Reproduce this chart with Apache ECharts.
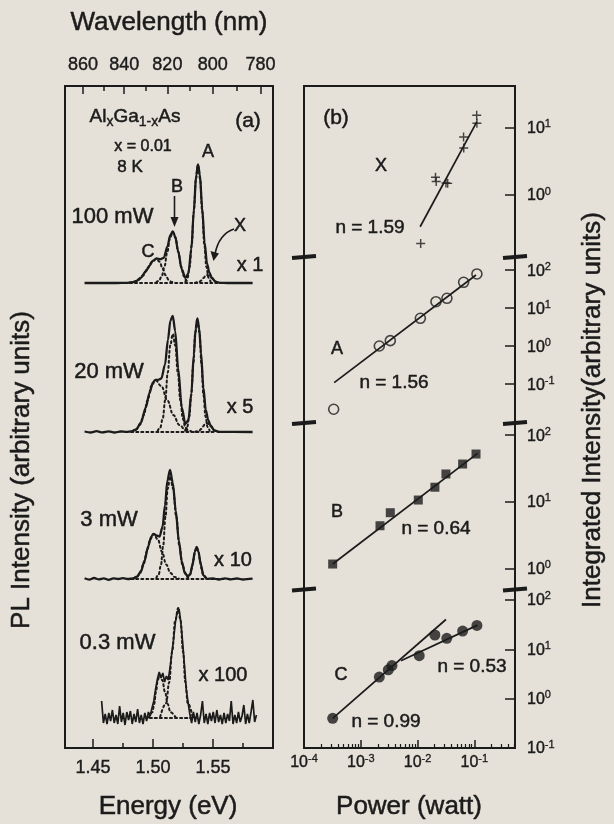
<!DOCTYPE html>
<html><head><meta charset="utf-8">
<script src="https://cdn.jsdelivr.net/npm/echarts@6/dist/echarts.min.js"></script>
<style>html,body{margin:0;padding:0;background:#e5e1d8;}#c{width:614px;height:824px;}</style>
</head><body><div id="c"></div>
<script>
// ---------------- Panel (a): PL spectra ----------------
const energyMajorTicks = [1.45, 1.50, 1.55];
const energyMinorTicks = [1.475, 1.525, 1.575];
const wavelengthMajor = [860, 840, 820, 800, 780];
const wavelengthMinor = [850, 830, 810, 790];
const powerNames = ['100 mW', '20 mW', '3 mW', '0.3 mW'];
const scaleNames = ['x 1', 'x 5', 'x 10', 'x 100'];
const baselineOffsets = [46.5, 31.6, 16.9, 3.0];

const p100Total = [[1.443,0],[1.470,0],[1.478,0.01],[1.482,0.05],[1.486,0.18],[1.490,0.54],[1.494,1.17],[1.497,1.74],[1.500,2.23],[1.503,2.47],[1.506,2.38],[1.509,2.52],[1.512,3.64],[1.5145,4.81],[1.5165,5.16],[1.5185,4.66],[1.521,3.16],[1.524,1.36],[1.527,0.51],[1.5295,0.96],[1.532,3.45],[1.534,7.16],[1.536,10.78],[1.5375,11.86],[1.539,10.90],[1.541,7.51],[1.543,4.05],[1.545,1.97],[1.547,1.03],[1.549,0.54],[1.552,0.14],[1.556,0.01],[1.562,0],[1.583,0]];
const p100C = [[1.4805,0.03],[1.4843,0.11],[1.488,0.32],[1.4918,0.78],[1.4955,1.46],[1.4993,2.12],[1.503,2.4],[1.5055,2.12],[1.508,1.46],[1.5105,0.78],[1.513,0.32],[1.5155,0.11],[1.518,0.03]];
const p100B = [[1.5027,0.06],[1.505,0.22],[1.5073,0.69],[1.5096,1.66],[1.5119,3.09],[1.5142,4.50],[1.5165,5.1],[1.5188,4.50],[1.5211,3.09],[1.5234,1.66],[1.5257,0.69],[1.528,0.22],[1.5303,0.06]];
const p100A = [[1.527,0.13],[1.5288,0.52],[1.5305,1.60],[1.5323,3.83],[1.534,7.16],[1.5358,10.41],[1.5375,11.8],[1.5393,10.41],[1.541,7.16],[1.5428,3.83],[1.5445,1.60],[1.5463,0.52],[1.548,0.13]];
const p100X = [[1.535,0.01],[1.5385,0.11],[1.5403,0.26],[1.542,0.49],[1.5438,0.71],[1.5455,0.8],[1.5473,0.71],[1.549,0.49],[1.5508,0.26],[1.5525,0.11],[1.556,0.01]];
const p100Base = [[1.481,0],[1.556,0]];

const p20Total = [[1.443,0.05],[1.448,-0.05],[1.453,0.08],[1.458,-0.04],[1.463,0.06],[1.468,-0.05],[1.473,0.05],[1.478,0.01],[1.482,0.05],[1.486,0.25],[1.490,0.94],[1.494,2.44],[1.497,3.87],[1.500,4.96],[1.502,5.22],[1.504,5.22],[1.507,5.35],[1.510,6.73],[1.5125,9.24],[1.5145,11.14],[1.5165,11.62],[1.5185,10.09],[1.521,6.37],[1.524,2.44],[1.527,0.81],[1.5295,1.18],[1.532,3.91],[1.534,7.70],[1.5355,10.27],[1.537,11.35],[1.5385,10.39],[1.540,7.95],[1.542,4.43],[1.544,2.22],[1.546,1.20],[1.548,0.65],[1.551,0.17],[1.555,0.01],[1.583,0]];
const p20C = [[1.4825,0.06],[1.48575,0.23],[1.489,0.70],[1.49225,1.69],[1.4955,3.15],[1.49875,4.59],[1.502,5.2],[1.507,4.59],[1.512,3.15],[1.517,1.69],[1.522,0.70],[1.527,0.23],[1.532,0.06]];
const p20B = [[1.5039,0.11],[1.506,0.43],[1.5081,1.33],[1.5102,3.18],[1.5123,5.94],[1.5144,8.65],[1.5165,9.8],[1.5186,8.65],[1.5207,5.94],[1.5228,3.18],[1.5249,1.33],[1.527,0.43],[1.5291,0.11]];
const p20A = [[1.5268,0.13],[1.5285,0.50],[1.5302,1.53],[1.5319,3.67],[1.5336,6.85],[1.5353,9.97],[1.537,11.3],[1.5387,9.97],[1.5404,6.85],[1.5421,3.67],[1.5438,1.53],[1.5455,0.50],[1.5472,0.13]];
const p20X = [[1.5351,0.01],[1.5384,0.12],[1.54005,0.29],[1.5417,0.55],[1.54335,0.79],[1.545,0.9],[1.54665,0.79],[1.5483,0.55],[1.54995,0.29],[1.5516,0.12],[1.5549,0.01]];
const p20Base = [[1.482,0],[1.551,0]];

const p3Total = [[1.443,0.08],[1.447,-0.06],[1.451,0.1],[1.455,-0.04],[1.459,0.07],[1.463,-0.08],[1.467,0.06],[1.471,0],[1.475,0.08],[1.479,0],[1.4836,0.05],[1.487,0.25],[1.490,0.78],[1.493,1.83],[1.496,3.27],[1.4985,4.22],[1.5005,4.52],[1.503,4.35],[1.5055,4.24],[1.508,5.24],[1.510,7.35],[1.512,9.84],[1.5142,10.91],[1.5165,9.63],[1.519,6.84],[1.5215,3.87],[1.524,1.75],[1.5265,0.63],[1.529,0.25],[1.531,0.49],[1.533,1.46],[1.5348,2.69],[1.5364,3.2],[1.538,2.69],[1.5398,1.45],[1.542,0.37],[1.545,0.02],[1.55,0.05],[1.555,-0.05],[1.56,0.06],[1.565,-0.04],[1.57,0.05],[1.575,-0.05],[1.583,0.03]];
const p3C = [[1.4837,0.05],[1.4865,0.20],[1.4893,0.61],[1.4921,1.46],[1.4949,2.73],[1.4977,3.97],[1.5005,4.5],[1.504,3.97],[1.5075,2.73],[1.511,1.46],[1.5145,0.61],[1.518,0.20],[1.5215,0.05]];
const p3B = [[1.5028,0.11],[1.5047,0.45],[1.5066,1.39],[1.5085,3.33],[1.5104,6.22],[1.5123,9.05],[1.5142,10.25],[1.5168,9.05],[1.5194,6.22],[1.522,3.33],[1.5246,1.39],[1.5272,0.45],[1.5298,0.11]];
const p3A = [[1.5283,0.04],[1.531,0.43],[1.53235,1.04],[1.5337,1.94],[1.53505,2.82],[1.5364,3.2],[1.53775,2.82],[1.5391,1.94],[1.54045,1.04],[1.5418,0.43],[1.5445,0.04]];
const p3Base = [[1.482,0],[1.560,0]];

const p03Total = [[1.4572,1.7],[1.4587,-0.5],[1.4602,0.4],[1.4617,-0.6],[1.4632,0.5],[1.4647,-0.3],[1.4662,0.8],[1.4677,-0.5],[1.4692,0.3],[1.4707,-0.6],[1.4722,1.2],[1.4737,-0.4],[1.4752,0.5],[1.4767,-0.7],[1.4782,0.6],[1.4797,-0.2],[1.4812,0.7],[1.4827,-0.6],[1.4842,0.4],[1.4857,-0.4],[1.4872,0.9],[1.4887,-0.5],[1.4902,0.3],[1.4917,-0.6],[1.4932,0.5],[1.4947,-0.3],[1.4962,0.6],[1.4977,0.2],[1.4992,1.0],[1.5007,1.7],[1.5022,2.9],[1.5037,3.9],[1.5052,4.6],[1.5067,4.0],[1.5082,4.5],[1.5097,3.6],[1.5112,4.2],[1.5127,3.8],[1.5142,5.0],[1.5157,6.5],[1.5172,7.9],[1.5187,9.6],[1.5202,10.6],[1.5217,10.9],[1.5232,9.6],[1.5247,7.6],[1.5262,5.3],[1.5277,2.9],[1.5292,1.6],[1.5307,0.4],[1.5322,-0.5],[1.5337,0.6],[1.5352,-0.4],[1.5367,0.5],[1.5382,-0.6],[1.5397,0.3],[1.5412,1.7],[1.5427,-0.5],[1.5442,0.4],[1.5457,-0.6],[1.5472,0.5],[1.5487,-0.3],[1.5502,0.6],[1.5517,-0.5],[1.5532,0.8],[1.5547,-0.4],[1.5562,0.3],[1.5577,-0.6],[1.5592,0.5],[1.5607,-0.5],[1.5622,0.4],[1.5637,-0.3],[1.5652,1.7],[1.5667,-0.6],[1.5682,0.3],[1.5697,-0.5],[1.5712,0.6],[1.5727,-0.4],[1.5742,0.2],[1.5757,1.3],[1.5772,-0.6],[1.5787,0.4],[1.5802,-0.5],[1.5817,0.6],[1.5832,1.8],[1.5847,-0.4],[1.5862,0.3]];
const p03C = [[1.4965,0.05],[1.4995,0.58],[1.501,1.40],[1.5025,2.61],[1.504,3.79],[1.5055,4.3],[1.50775,3.79],[1.51,2.61],[1.51225,1.40],[1.5145,0.58],[1.519,0.05]];
const p03B = [[1.506,0.12],[1.511,1.49],[1.5135,3.57],[1.516,6.67],[1.5185,9.71],[1.521,11.0],[1.523,9.71],[1.525,6.67],[1.527,3.57],[1.529,1.49],[1.533,0.12]];
const p03Base = [[1.4975,0],[1.532,0]];

// ---------------- Panel (b): integrated intensity vs power ----------------
const powerTickLabels = [1e-4, 1e-3, 1e-2, 1e-1];
const powerMinorTicks = [2e-4,3e-4,4e-4,5e-4,6e-4,7e-4,8e-4,9e-4,2e-3,3e-3,4e-3,5e-3,6e-3,7e-3,8e-3,9e-3,2e-2,3e-2,4e-2,5e-2,6e-2,7e-2,8e-2,9e-2,0.2,0.3,0.4,0.5];
const ticksX = [1, 10];
const ticksA = [0.1, 1, 10, 100];
const ticksB = [1, 10, 100];
const ticksC = [0.1, 1, 10, 100];

const powerX = [0.01135, 0.0207, 0.0213, 0.0316, 0.0339, 0.0646, 0.065, 0.110, 0.111];
const intensX = [0.191, 1.83, 1.59, 1.51, 1.49, 7.28, 4.99, 15.3, 11.6];
const fitX = [[0.0111, 0.338], [0.111, 12.3]];

const powerA = [3.33e-4, 2.12e-3, 3.31e-3, 1.12e-2, 2.11e-2, 3.29e-2, 6.48e-2, 0.111];
const intensA = [0.0219, 1.01, 1.40, 5.42, 14.8, 18.2, 48.0, 79.4];
const fitA = [[3.4e-4, 0.11], [0.107, 74.8]];

const powerB = [3.2e-4, 2.18e-3, 3.31e-3, 1.03e-2, 2.02e-2, 3.16e-2, 6.22e-2, 0.107];
const intensB = [1.16, 4.36, 6.84, 10.6, 16.5, 26.1, 36.8, 52];
const fitB = [[3.2e-4, 1.16], [0.114, 53.3]];

const powerC = [3.2e-4, 2.12e-3, 3.05e-3, 3.54e-3, 1.07e-2, 2.02e-2, 3.27e-2, 6.22e-2, 0.111];
const intensC = [0.40, 2.73, 3.84, 4.68, 7.41, 19.5, 16.7, 23.4, 30.5];
const fitC1 = [[3.2e-4, 0.40], [0.0316, 40.2]];
const fitC2 = [[5.1e-3, 5.89], [0.114, 30.9]];

// ---------------- build ----------------
const FONT = '"Liberation Sans", Arial, Helvetica, sans-serif';
const INK = '#1b1b1b';
const HC = 1239.84;
const zip = (a, b) => a.map((v, i) => [v, b[i]]);
const shift = (arr, off) => arr.map(p => [p[0], p[1] + off]);

const chart = echarts.init(document.getElementById('c'), null, {renderer: 'canvas'});

const A_LEFT = 65, A_W = 208, TOP = 86, H = 662;
const B_LEFT = 304, B_W = 211;
const segTop = [86, 257, 423, 589.5], segBot = [257, 423, 589.5, 748];

const grids = [
  {left: A_LEFT, top: TOP, width: A_W, height: H, show: true, borderColor: INK, borderWidth: 2, backgroundColor: 'transparent'},
  {left: A_LEFT, top: TOP, width: A_W, height: H},
  {left: B_LEFT, top: TOP, width: B_W, height: H, show: true, borderColor: INK, borderWidth: 2, backgroundColor: 'transparent'}
];
for (let i = 0; i < 4; i++) grids.push({left: B_LEFT, top: segTop[i], width: B_W, height: segBot[i] - segTop[i]});
grids.push({left: B_LEFT, top: segTop[3], width: B_W, height: segBot[3] - segTop[3]});

const supRich = {
  b: {fontSize: 16, lineHeight: 18, verticalAlign: 'bottom', fontFamily: FONT, color: INK, textBorderColor: INK, textBorderWidth: 0.4},
  e: {fontSize: 11, lineHeight: 11, verticalAlign: 'top', fontFamily: FONT, color: INK, textBorderColor: INK, textBorderWidth: 0.3}
};
const powFmt = v => '{b|10}{e|' + Math.round(Math.log10(v)) + '}';
const E_MIN = 1.4267, E_MAX = 1.6;
const P_MIN = 1e-4, P_MAX = 0.52;
const tickLabelStyle = {color: INK, fontSize: 18, fontFamily: FONT, textBorderColor: INK, textBorderWidth: 0.4};

const xAxes = [
  {gridIndex: 0, type: 'value', position: 'bottom', min: E_MIN, max: E_MAX,
   axisLine: {show: false}, splitLine: {show: false},
   axisTick: {inside: true, length: 9, customValues: energyMajorTicks, lineStyle: {color: INK, width: 1.5}},
   axisLabel: Object.assign({customValues: energyMajorTicks, margin: 11, formatter: v => v.toFixed(2)}, tickLabelStyle)},
  {gridIndex: 0, type: 'value', position: 'top', min: E_MIN, max: E_MAX,
   axisLine: {show: false}, splitLine: {show: false},
   axisTick: {inside: true, length: 8, customValues: wavelengthMajor.map(w => HC / w), lineStyle: {color: INK, width: 1.5}},
   axisLabel: Object.assign({customValues: wavelengthMajor.map(w => HC / w), margin: 12, formatter: v => String(Math.round(HC / v))}, tickLabelStyle)},
  {gridIndex: 1, type: 'value', position: 'bottom', min: E_MIN, max: E_MAX,
   axisLine: {show: false}, splitLine: {show: false}, axisLabel: {show: false},
   axisTick: {inside: true, length: 5, customValues: energyMinorTicks, lineStyle: {color: INK, width: 1.5}}},
  {gridIndex: 1, type: 'value', position: 'top', min: E_MIN, max: E_MAX,
   axisLine: {show: false}, splitLine: {show: false}, axisLabel: {show: false},
   axisTick: {inside: true, length: 5, customValues: wavelengthMinor.map(w => HC / w), lineStyle: {color: INK, width: 1.5}}},
  {gridIndex: 2, type: 'value', show: false},
  {gridIndex: 3, type: 'log', min: P_MIN, max: P_MAX, show: false},
  {gridIndex: 4, type: 'log', min: P_MIN, max: P_MAX, show: false},
  {gridIndex: 5, type: 'log', min: P_MIN, max: P_MAX, show: false},
  {gridIndex: 6, type: 'log', min: P_MIN, max: P_MAX, position: 'bottom',
   axisLine: {show: false}, splitLine: {show: false},
   axisTick: {inside: true, length: 8, customValues: powerTickLabels, lineStyle: {color: INK, width: 1.5}},
   axisLabel: {customValues: powerTickLabels, margin: 5, formatter: powFmt, rich: supRich}},
  {gridIndex: 7, type: 'log', min: P_MIN, max: P_MAX, position: 'bottom',
   axisLine: {show: false}, splitLine: {show: false}, axisLabel: {show: false},
   axisTick: {inside: true, length: 4, customValues: powerMinorTicks, lineStyle: {color: INK, width: 1.2}}}
];

function segY(grid, min, max, ticks) {
  return {gridIndex: grid, type: 'log', position: 'right', min: min, max: max,
    axisLine: {show: false}, splitLine: {show: false},
    axisTick: {inside: true, length: 10, customValues: ticks, lineStyle: {color: INK, width: 1.5}},
    axisLabel: {customValues: ticks, margin: 12, formatter: powFmt, rich: supRich}};
}
const yAxes = [
  {gridIndex: 0, type: 'value', min: 0, max: 66.2, show: false},
  {gridIndex: 1, type: 'value', min: 0, max: 66.2, show: false},
  {gridIndex: 2, type: 'value', show: false},
  segY(3, 0.12, 41.6, ticksX),
  segY(4, 0.00953, 222, ticksA),
  segY(5, 0.481, 152, ticksB),
  segY(6, 0.0999, 163, ticksC),
  {gridIndex: 7, type: 'value', show: false}
];

const series = [];
function solid(data, smooth, width) {
  series.push({type: 'line', xAxisIndex: 0, yAxisIndex: 0, data: data, symbol: 'none', silent: true,
    smooth: smooth, smoothMonotone: 'x', lineStyle: {color: INK, width: width}, z: 3});
}
function dotted(data) {
  series.push({type: 'line', xAxisIndex: 0, yAxisIndex: 0, data: data, symbol: 'none', silent: true,
    smooth: 0.4, smoothMonotone: 'x', lineStyle: {color: INK, width: 2, type: [2, 3], cap: 'round'}, z: 2});
}
const specs = [
  {total: p100Total, comps: [p100C, p100B, p100A, p100X], base: p100Base},
  {total: p20Total, comps: [p20C, p20B, p20A, p20X], base: p20Base},
  {total: p3Total, comps: [p3C, p3B, p3A], base: p3Base},
  {total: p03Total, comps: [p03C, p03B], base: p03Base}
];
specs.forEach((s, i) => {
  const off = baselineOffsets[i];
  dotted(shift(s.base, off));
  s.comps.forEach(c => dotted(shift(c, off)));
  if (i === 3) solid(shift(s.total, off), false, 1.7);
  else solid(shift(s.total, off), 0.3, 2.3);
});

const plusPath = 'path://M4.2,0H5.8V4.2H10V5.8H5.8V10H4.2V5.8H0V4.2H4.2Z';
function scat(xi, yi, data, symbol, size, fill, border) {
  series.push({type: 'scatter', xAxisIndex: xi, yAxisIndex: yi, data: data, symbol: symbol, symbolSize: size,
    silent: true, itemStyle: {color: fill, borderColor: border ? INK : undefined, borderWidth: border ? 1.6 : 0}, z: 4});
}
function fit(xi, yi, data) {
  series.push({type: 'line', xAxisIndex: xi, yAxisIndex: yi, data: data, symbol: 'none', silent: true,
    lineStyle: {color: INK, width: 1.7}, z: 3});
}
scat(5, 3, zip(powerX, intensX), plusPath, 9, INK, false);
fit(5, 3, fitX);
scat(6, 4, zip(powerA, intensA), 'circle', 10, 'rgba(0,0,0,0)', true);
fit(6, 4, fitA);
scat(7, 5, zip(powerB, intensB), 'rect', 9, INK, false);
fit(7, 5, fitB);
scat(8, 6, zip(powerC, intensC), 'circle', 11, INK, false);
fit(8, 6, fitC1);
fit(8, 6, fitC2);

// ---------------- annotations ----------------
function T(x, y, text, size, extra) {
  return Object.assign({type: 'text', x: x, y: y, silent: true,
    style: {text: text, fill: INK, font: size + 'px ' + FONT, stroke: INK, lineWidth: 0.5,
      textAlign: 'center', textVerticalAlign: 'middle', align: 'center', verticalAlign: 'middle'}}, extra || {});
}
const gfx = [
  T(169, 23, 'Wavelength (nm)', 26),
  T(168, 807, 'Energy (eV)', 26),
  T(409, 807, 'Power (watt)', 26),
  T(22, 470, 'PL Intensity (arbitrary units)', 26, {rotation: Math.PI / 2}),
  T(593, 410, 'Integrated Intensity(arbitrary units)', 26, {rotation: Math.PI / 2}),
  {type: 'text', x: 135, y: 118, silent: true, style: {
    text: '{n|Al}{s|x}{n|Ga}{s|1-x}{n|As}', textAlign: 'center', textVerticalAlign: 'middle', align: 'center', verticalAlign: 'middle',
    rich: {n: {fontSize: 19, lineHeight: 22, verticalAlign: 'top', fontFamily: FONT, fill: INK, color: INK, stroke: INK, lineWidth: 0.5},
           s: {fontSize: 14, lineHeight: 14, verticalAlign: 'bottom', fontFamily: FONT, fill: INK, color: INK, stroke: INK, lineWidth: 0.4}}}},
  T(248, 121, '(a)', 21),
  T(143, 147, 'x = 0.01', 16),
  T(130, 167, '8 K', 17),
  T(208, 152, 'A', 18),
  T(177, 187, 'B', 18),
  T(148, 252, 'C', 18),
  T(240, 226, 'X', 18),
  T(336, 118, '(b)', 21),
  T(381, 166, 'X', 18),
  T(370, 228, 'n = 1.59', 19),
  T(337, 349, 'A', 18),
  T(394, 383, 'n = 1.56', 19),
  T(337, 512, 'B', 18),
  T(436, 529, 'n = 0.64', 19),
  T(341, 675, 'C', 18),
  T(472, 667, 'n = 0.53', 19),
  T(386, 722, 'n = 0.99', 19),
  // arrows in panel (a)
  {type: 'line', silent: true, shape: {x1: 174.5, y1: 196, x2: 174.5, y2: 221}, style: {stroke: INK, lineWidth: 1.6}},
  {type: 'polygon', silent: true, shape: {points: [[170.5, 217], [178.5, 217], [174.5, 227]]}, style: {fill: INK}},
  {type: 'bezierCurve', silent: true, shape: {x1: 234, y1: 229, x2: 215, y2: 254, cpx1: 219, cpy1: 234}, style: {stroke: INK, lineWidth: 1.6, fill: 'none'}},
  {type: 'polygon', silent: true, shape: {points: [[210.5, 251], [219, 253.5], [213.5, 261]]}, style: {fill: INK}}
];
// spectrum labels
const nameXY = [[112.5, 217], [109, 372], [109, 520], [117.5, 643]];
const scaleXY = [[250, 265], [240, 407], [233, 560], [223, 675]];
powerNames.forEach((n, i) => gfx.push(T(nameXY[i][0], nameXY[i][1], n, 22)));
scaleNames.forEach((n, i) => gfx.push(T(scaleXY[i][0], scaleXY[i][1], n, 20)));
// axis break marks on panel (b)
[257, 423, 589.5].forEach(y => {
  [B_LEFT, B_LEFT + B_W].forEach(x => {
    gfx.push({type: 'line', silent: true, shape: {x1: x - 12, y1: y + 1, x2: x + 12, y2: y - 1}, style: {stroke: INK, lineWidth: 4}});
  });
});

chart.setOption({
  animation: false,
  backgroundColor: '#e5e1d8',
  textStyle: {fontFamily: FONT, color: INK},
  grid: grids,
  xAxis: xAxes,
  yAxis: yAxes,
  series: series,
  graphic: {elements: gfx}
});
</script></body></html>
